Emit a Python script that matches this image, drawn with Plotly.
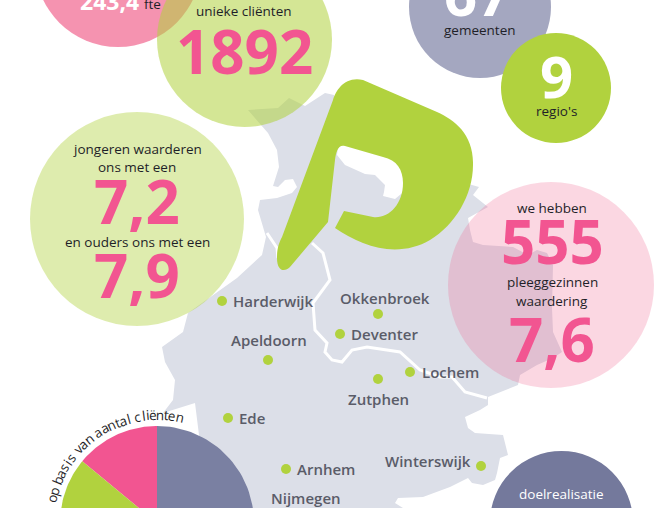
import numpy as np
import plotly.graph_objects as go

W, H = 663, 508
FONT = "Open Sans"

# ---------- colours ----------
GREEN = "#b1d23e"
PINK = "#f25591"
SOFT_PINK = "#f0608a"
SLATE = "#74799c"
MAP = "#dcdfe8"
INK = "#1f1f28"
CITY = "#5a5c68"

# ---------- data ----------
client_count = "1892"
fte_count = "243,4"
municipalities = "67"
regions = "9"
foster_families = "555"
youth_score = "7,2"
parent_score = "7,9"
foster_score = "7,6"

pie_labels = ["roze", "groen", "blauw"]
pie_shares = [14, 30, 56]
pie_colors = [PINK, GREEN, "#7a80a2"]
pie_caption = "op basis van aantal cliënten"

city_names = ["Harderwijk", "Okkenbroek", "Deventer", "Apeldoorn", "Lochem", "Zutphen", "Ede", "Arnhem", "Winterswijk"]
city_x = [222, 378, 340, 268, 410, 378, 228, 286, 481]
city_y = [301, 314, 334, 360, 372, 379, 418, 469, 466]
city_label_x = [232, 385, 350, 269, 421, 378, 238, 296, 472]
city_label_y = [301, 298, 334, 340, 372, 399, 418, 469, 461]
city_anchor = ["left", "center", "left", "center", "left", "center", "left", "left", "right"]

map_outline = [
    (248, 110), (278, 108), (289, 98), (305, 106), (325, 93), (334, 95), (340, 130), (337, 155),
    (345, 165), (365, 174), (375, 175), (378, 178), (385, 185), (384, 192), (383, 196), (395, 199),
    (430, 170), (472, 185), (479, 187), (473, 195), (488, 207), (468, 218), (470, 230), (473, 242),
    (483, 245), (513, 247), (528, 255), (537, 250), (547, 253), (553, 265), (552, 308), (553, 332),
    (562, 352), (553, 358), (537, 365), (520, 375), (518, 385), (488, 397), (488, 405), (480, 410),
    (465, 417), (468, 428), (475, 433), (503, 435), (508, 455), (500, 458), (497, 473), (495, 480),
    (483, 485), (472, 483), (468, 478), (450, 487), (423, 497), (398, 498), (395, 503), (403, 508),
    (403, 530), (199, 530), (199, 435), (195, 403), (163, 413), (173, 400), (175, 380), (165, 362),
    (162, 347), (183, 332), (188, 313), (237, 278), (262, 255), (266, 237), (258, 210), (260, 200),
    (277, 198), (292, 193), (297, 187), (293, 179), (285, 180), (278, 187), (273, 186), (279, 167),
    (277, 150), (268, 133),
]
river_main = [
    (312, 243), (323, 253), (330, 280), (313, 303), (315, 330), (327, 343), (325, 352), (332, 360),
    (342, 362), (352, 350), (367, 347), (400, 352), (420, 370), (440, 377), (452, 377), (465, 392), (487, 398),
]
river_north = [(267, 233), (277, 248), (278, 258)]

logo_path = (
    "M 277,258 C 277,248 279,243 282,237 L 333,100 C 336,90 345,76 363,80 L 437,112 "
    "C 455,120 474,135 473,165 C 473,195 455,225 430,240 C 410,252 385,252 363,243 "
    "Q 348,237 335,228 L 344,211 L 373,217 C 388,219 403,205 403,183 C 403,170 397,160 383,157 "
    "L 345,146 C 338,144 336,152 335,160 L 328,222 L 290,267 C 285,272 277,272 277,258 Z"
)


def poly_path(points, close=True):
    path = "M " + " L ".join(f"{x},{y}" for x, y in points)
    return path + " Z" if close else path


def circle(cx, cy, r, color, opacity=1.0):
    fig.add_shape(type="circle", x0=cx - r, x1=cx + r, y0=cy - r, y1=cy + r,
                  fillcolor=color, opacity=opacity, line_width=0, layer="below")


def label(x, y, s, size=13.5, color=INK, weight=400, anchor="center", yanchor="middle", angle=0):
    fig.add_annotation(x=x, y=y, text=s, showarrow=False, xanchor=anchor, yanchor=yanchor, textangle=angle,
                       borderpad=0, font=dict(family=FONT, size=size, color=color, weight=weight))


fig = go.Figure()

# ---------- map and circles ----------
fig.add_shape(type="path", path=poly_path(map_outline), fillcolor=MAP, line_width=0, layer="below")
for river in (river_main, river_north):
    fig.add_shape(type="path", path=poly_path(river, close=False), line=dict(color="white", width=3), layer="below")

circle(118, -36, 83, SOFT_PINK, 0.68)
circle(244.5, 39.5, 87.5, GREEN, 0.55)
circle(137, 219, 107, GREEN, 0.42)
circle(480, 7, 71, "#a4a7c0")
circle(556, 88, 55, GREEN)
circle(551, 285, 103, SOFT_PINK, 0.25)
circle(561.5, 522.5, 71.5, SLATE)

fig.add_shape(type="path", path=logo_path, fillcolor=GREEN, line_width=0, layer="below")

# ---------- pie ----------
pie_cx, pie_cy, pie_r = 157, 523, 97
start = 0.0
for name, share, color in zip(pie_labels, pie_shares, pie_colors):
    # wedges run counter-clockwise from 12 o'clock
    angles = np.radians(np.linspace(start, start + share * 3.6, 80))
    fig.add_trace(go.Scatter(
        x=np.r_[pie_cx, pie_cx - pie_r * np.sin(angles), pie_cx],
        y=np.r_[pie_cy, pie_cy - pie_r * np.cos(angles), pie_cy],
        mode="lines", fill="toself", fillcolor=color, line=dict(width=0), name=name, showlegend=False,
    ))
    start += share * 3.6

# caption set along the pie's rim, one letter at a time
narrow = {"i": 0.55, "l": 0.55, "t": 0.7, " ": 0.6, "ë": 1.05}
widths = [narrow.get(c, 1.08) for c in pie_caption]
edges = np.r_[0, np.cumsum(widths)] / sum(widths)
for c, a, b in zip(pie_caption, edges[:-1], edges[1:]):
    deg = -79 + 93 * (a + b) / 2
    label(pie_cx + 108 * np.sin(np.radians(deg)), pie_cy - 108 * np.cos(np.radians(deg)), c, size=13.5, angle=deg)

# ---------- cities ----------
fig.add_trace(go.Scatter(x=city_x, y=city_y, mode="markers", marker=dict(size=10, color=GREEN),
                         text=city_names, showlegend=False))
for name, x, y, a in zip(city_names, city_label_x, city_label_y, city_anchor):
    label(x, y, name, size=15, color=CITY, weight=600, anchor=a)
label(306, 498, "Nijmegen", size=15, color=CITY, weight=600)

# ---------- stats ----------
big = dict(size=60, color=PINK, weight=700)
label(109, 18, fte_count, size=23, color="white", weight=700, yanchor="bottom")
label(143, 14, "fte", size=13.5, anchor="left", yanchor="bottom")
label(244, 11, "unieke cliënten")
label(244.5, 51, client_count, **big)
label(137, 149, "jongeren waarderen")
label(137, 167, "ons met een")
label(137, 201, youth_score, **big)
label(137, 242, "en ouders ons met een")
label(137, 275, parent_score, **big)
label(480, 30, "gemeenten")
label(477, 34, municipalities, size=58, color="white", weight=700, yanchor="bottom")
label(556, 75, regions, size=58, color="white", weight=700)
label(556, 111, "regio's")
label(552, 208, "we hebben")
label(552, 241, foster_families, **big)
label(552, 282, "pleeggezinnen")
label(552, 301, "waardering")
label(552, 339, foster_score, **big)
label(561, 494, "doelrealisatie", color="white")

fig.update_xaxes(range=[0, W], visible=False, fixedrange=True)
fig.update_yaxes(range=[H, 0], visible=False, fixedrange=True)
fig.update_layout(width=W, height=H, margin=dict(l=0, r=0, t=0, b=0), plot_bgcolor="white", paper_bgcolor="white",
                  showlegend=False)

fig.write_html("out.html", config={"displayModeBar": False}, post_script="document.body.style.margin='0';")
